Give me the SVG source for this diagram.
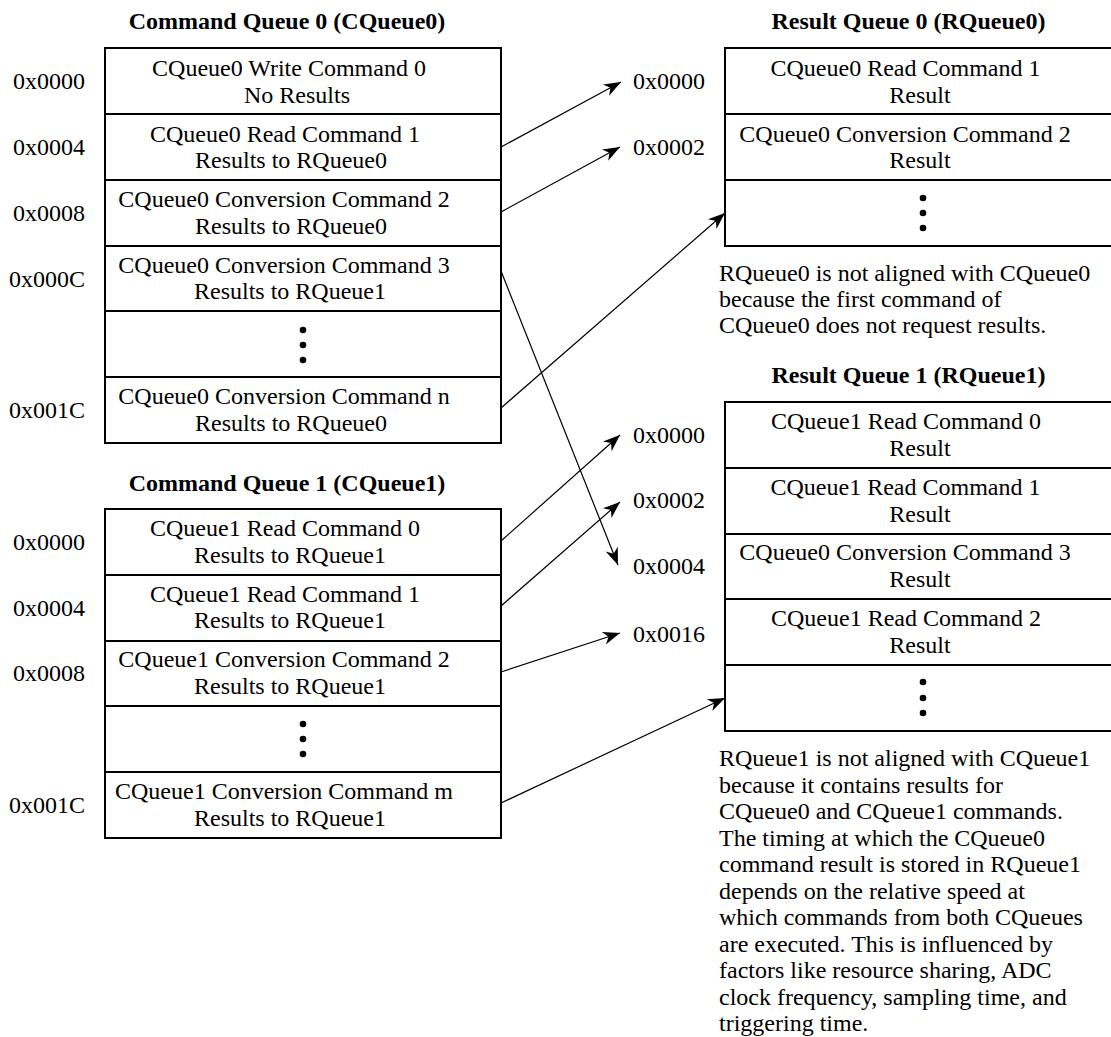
<svg xmlns="http://www.w3.org/2000/svg" width="1111" height="1037" viewBox="0 0 1111 1037">
<style>
text{font-family:"Liberation Serif","Times New Roman",serif;font-size:24px;fill:#000}
.t{font-weight:bold;text-anchor:middle}
.c{text-anchor:middle}
.a{text-anchor:end}
.box{fill:#fff;stroke:#000;stroke-width:2}
.sep{stroke:#000;stroke-width:2;fill:none}
.con{stroke:#000;stroke-width:1.2;fill:none;marker-end:url(#ah)}
</style>
<defs>
<marker id="ah" viewBox="-18 -7 19 14" refX="0" refY="0" markerWidth="19" markerHeight="14" markerUnits="userSpaceOnUse" orient="auto">
<path d="M0,0 L-17,-6.5 L-12,0 L-17,6.5 Z" fill="#000"/>
</marker>
</defs>
<rect width="1111" height="1037" fill="#fff"/>

<g id="cqueue0">
<text class="t" x="287" y="29">Command Queue 0 (CQueue0)</text>
<rect class="box" x="105" y="48" width="396" height="395"/>
<path class="sep" d="M105,114H501M105,180H501M105,246H501M105,311H501M105,377H501"/>
<text class="a" x="85" y="89">0x0000</text>
<text class="a" x="85" y="155">0x0004</text>
<text class="a" x="85" y="221">0x0008</text>
<text class="a" x="85" y="287">0x000C</text>
<text class="a" x="85" y="418">0x001C</text>
<text class="c" x="289" y="76">CQueue0 Write Command 0</text>
<text class="c" x="297" y="103">No Results</text>
<text class="c" x="285" y="142">CQueue0 Read Command 1</text>
<text class="c" x="291" y="168">Results to RQueue0</text>
<text class="c" x="284" y="207">CQueue0 Conversion Command 2</text>
<text class="c" x="291" y="234">Results to RQueue0</text>
<text class="c" x="284" y="273">CQueue0 Conversion Command 3</text>
<text class="c" x="290" y="299">Results to RQueue1</text>
<circle cx="303" cy="330" r="3.3"/><circle cx="303" cy="345" r="3.3"/><circle cx="303" cy="360" r="3.3"/>
<text class="c" x="284" y="404">CQueue0 Conversion Command n</text>
<text class="c" x="291" y="431">Results to RQueue0</text>
</g>

<g id="cqueue1">
<text class="t" x="287" y="491">Command Queue 1 (CQueue1)</text>
<rect class="box" x="105" y="509" width="396" height="329"/>
<path class="sep" d="M105,575H501M105,641H501M105,706H501M105,772H501"/>
<text class="a" x="85" y="550">0x0000</text>
<text class="a" x="85" y="616">0x0004</text>
<text class="a" x="85" y="681">0x0008</text>
<text class="a" x="85" y="813">0x001C</text>
<text class="c" x="285" y="536">CQueue1 Read Command 0</text>
<text class="c" x="290" y="563">Results to RQueue1</text>
<text class="c" x="285" y="602">CQueue1 Read Command 1</text>
<text class="c" x="290" y="628">Results to RQueue1</text>
<text class="c" x="284" y="667">CQueue1 Conversion Command 2</text>
<text class="c" x="290" y="694">Results to RQueue1</text>
<circle cx="303" cy="724" r="3.3"/><circle cx="303" cy="739" r="3.3"/><circle cx="303" cy="754" r="3.3"/>
<text class="c" x="284" y="799">CQueue1 Conversion Command m</text>
<text class="c" x="290" y="826">Results to RQueue1</text>
</g>

<g id="rqueue0">
<text class="t" x="908.5" y="29">Result Queue 0 (RQueue0)</text>
<rect class="box" x="725" y="48" width="400" height="198"/>
<path class="sep" d="M725,114H1125M725,180H1125"/>
<text class="a" x="705" y="89">0x0000</text>
<text class="a" x="705" y="155">0x0002</text>
<text class="c" x="905.5" y="76">CQueue0 Read Command 1</text>
<text class="c" x="920" y="103">Result</text>
<text class="c" x="905" y="142">CQueue0 Conversion Command 2</text>
<text class="c" x="920" y="168">Result</text>
<circle cx="923" cy="198" r="3.3"/><circle cx="923" cy="213" r="3.3"/><circle cx="923" cy="228" r="3.3"/>
</g>

<g id="note0">
<text x="719" y="281">RQueue0 is not aligned with CQueue0</text>
<text x="719" y="307">because the first command of</text>
<text x="719" y="333">CQueue0 does not request results.</text>
</g>

<g id="rqueue1">
<text class="t" x="908.5" y="383">Result Queue 1 (RQueue1)</text>
<rect class="box" x="725" y="402" width="400" height="329"/>
<path class="sep" d="M725,468H1125M725,534H1125M725,599H1125M725,665H1125"/>
<text class="a" x="705" y="443">0x0000</text>
<text class="a" x="705" y="508">0x0002</text>
<text class="a" x="705" y="574">0x0004</text>
<text class="a" x="705" y="642">0x0016</text>
<text class="c" x="906" y="429">CQueue1 Read Command 0</text>
<text class="c" x="920" y="456">Result</text>
<text class="c" x="905.5" y="495">CQueue1 Read Command 1</text>
<text class="c" x="920" y="522">Result</text>
<text class="c" x="905" y="560">CQueue0 Conversion Command 3</text>
<text class="c" x="920" y="587">Result</text>
<text class="c" x="906" y="626">CQueue1 Read Command 2</text>
<text class="c" x="920" y="653">Result</text>
<circle cx="923" cy="682" r="3.3"/><circle cx="923" cy="698" r="3.3"/><circle cx="923" cy="713" r="3.3"/>
</g>

<g id="note1">
<text x="719" y="766">RQueue1 is not aligned with CQueue1</text>
<text x="719" y="792.5">because it contains results for</text>
<text x="719" y="819">CQueue0 and CQueue1 commands.</text>
<text x="719" y="845.5">The timing at which the CQueue0</text>
<text x="719" y="872">command result is stored in RQueue1</text>
<text x="719" y="898.5">depends on the relative speed at</text>
<text x="719" y="925">which commands from both CQueues</text>
<text x="719" y="951.5">are executed. This is influenced by</text>
<text x="719" y="978">factors like resource sharing, ADC</text>
<text x="719" y="1004.5">clock frequency, sampling time, and</text>
<text x="719" y="1031">triggering time.</text>
</g>

<g id="connectors">
<line class="con" x1="501" y1="147" x2="621" y2="82"/>
<line class="con" x1="501" y1="212" x2="620" y2="147"/>
<line class="con" x1="501" y1="408" x2="725" y2="213"/>
<line class="con" x1="501" y1="271" x2="618" y2="565"/>
<line class="con" x1="501" y1="541" x2="620" y2="435"/>
<line class="con" x1="501" y1="606" x2="620" y2="502"/>
<line class="con" x1="501" y1="672" x2="620" y2="633"/>
<line class="con" x1="501" y1="803" x2="725" y2="698"/>
</g>
</svg>
